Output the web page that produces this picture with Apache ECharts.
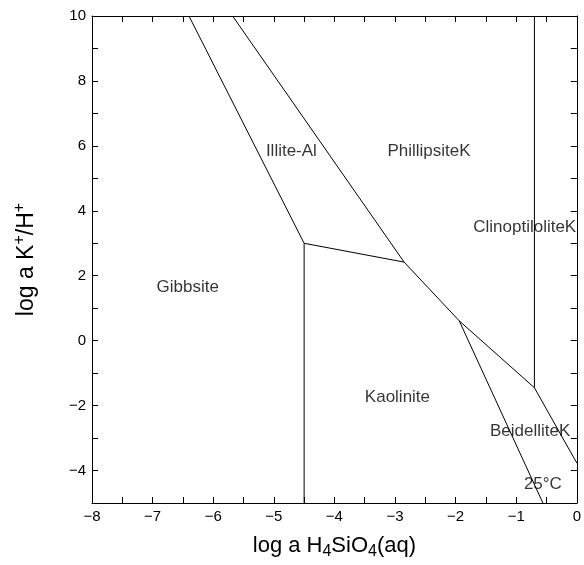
<!DOCTYPE html>
<html>
<head>
<meta charset="utf-8">
<script src="https://cdn.jsdelivr.net/npm/echarts@6/dist/echarts.min.js"></script>
<style>
html,body{margin:0;padding:0;background:#fff;}
#chart{width:584px;height:565px;}
</style>
</head>
<body>
<div id="chart"></div>
<script>
// Phase boundaries (x = log a H4SiO4(aq), y = log a K+/H+)
var gibbsiteIllite = [[-6.40, 10], [-4.5, 3.0]];
var illitePhillipsite = [[-5.68, 10], [-2.85, 2.42], [-1.94, 0.61], [-0.70, -1.45], [0, -3.77]];
var illiteKaolinite = [[-4.5, 3.0], [-2.85, 2.42]];
var gibbsiteKaolinite = [[-4.5, 3.0], [-4.5, -5]];
var kaoliniteBeidellite = [[-1.94, 0.61], [-0.56, -5]];
var phillipsiteClino = [[-0.70, 10], [-0.70, -1.45]];

var fieldNames = ['Illite-Al', 'PhillipsiteK', 'Gibbsite', 'ClinoptiloliteK', 'Kaolinite', 'BeidelliteK', '25°C'];
var fieldX = [-4.71, -2.44, -6.42, -0.86, -2.96, -0.77, -0.56];
var fieldY = [5.83, 5.83, 1.63, 3.50, -1.75, -2.79, -4.42];

var yTicks = [-4, -2, 0, 2, 4, 6, 8, 10];

var FONT = '"Liberation Sans", Arial, sans-serif';
function fmt(v) { return String(v).replace('-', '\u2212'); }

var lineSets = [gibbsiteIllite, illitePhillipsite, illiteKaolinite, gibbsiteKaolinite, kaoliniteBeidellite, phillipsiteClino];
var series = lineSets.map(function (d) {
  return {
    type: 'line', data: d, symbol: 'none', silent: true,
    lineStyle: { color: '#000', width: 1 }, xAxisIndex: 0, yAxisIndex: 0
  };
});
series.push({
  type: 'scatter', symbolSize: 0, silent: true,
  data: fieldNames.map(function (n, i) { return { value: [fieldX[i], fieldY[i]], name: n }; }),
  label: {
    show: true, position: 'inside', formatter: '{b}', color: '#000',
    fontFamily: FONT, fontSize: 17
  }
});

var chart = echarts.init(document.getElementById('chart'), null, { renderer: 'canvas' });
var tickStyle = { show: true, inside: true, length: 6, lineStyle: { color: '#000', width: 1 } };
var minorStyle = { show: true, splitNumber: 2, length: 6, lineStyle: { color: '#000', width: 1 } };
chart.setOption({
  animation: false,
  backgroundColor: '#fff',
  grid: { left: 92, right: 6, top: 16, bottom: 60 },
  xAxis: [{
    type: 'value', min: -8, max: 0, interval: 1, position: 'bottom',
    axisLine: { onZero: false, lineStyle: { color: '#000', width: 1 } },
    axisTick: tickStyle, minorTick: minorStyle, splitLine: { show: false },
    axisLabel: { color: '#000', fontFamily: FONT, fontSize: 15, margin: 6, formatter: fmt },
    name: '{a|log a H}{b|4}{a|SiO}{b|4}{a|(aq)}', nameLocation: 'middle', nameGap: 29,
    nameTextStyle: {
      rich: {
        a: { fontFamily: FONT, fontSize: 22, color: '#000' },
        b: { fontFamily: FONT, fontSize: 16, color: '#000', padding: [12, 0, 0, 0] }
      }
    }
  }, {
    type: 'value', min: -8, max: 0, interval: 1, position: 'top',
    axisLine: { onZero: false, lineStyle: { color: '#000', width: 1 } },
    axisTick: tickStyle, minorTick: minorStyle, splitLine: { show: false },
    axisLabel: { show: false }
  }],
  yAxis: [{
    type: 'value', min: -5, max: 10, interval: 2, position: 'left',
    axisLine: { onZero: false, lineStyle: { color: '#000', width: 1 } },
    axisTick: tickStyle, minorTick: minorStyle, splitLine: { show: false },
    axisLabel: {
      color: '#000', fontFamily: FONT, fontSize: 15, margin: 6, formatter: fmt,
      customValues: yTicks
    },
    name: '{a|log a K}{s|+}{a|/H}{s|+}', nameLocation: 'middle', nameGap: 50, nameRotate: 90,
    nameTextStyle: {
      rich: {
        a: { fontFamily: FONT, fontSize: 23, color: '#000' },
        s: { fontFamily: FONT, fontSize: 16, color: '#000', padding: [0, 0, 14, 0] }
      }
    }
  }, {
    type: 'value', min: -5, max: 10, interval: 1, position: 'right',
    axisLine: { onZero: false, lineStyle: { color: '#000', width: 1 } },
    axisTick: tickStyle, splitLine: { show: false },
    axisLabel: { show: false }
  }],
  series: series
});
</script>
</body>
</html>
